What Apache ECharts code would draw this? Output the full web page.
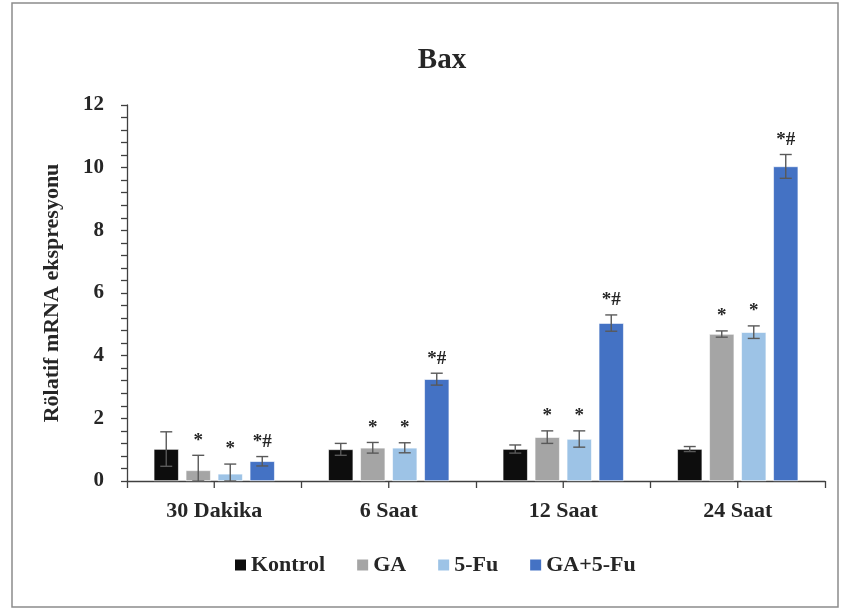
<!DOCTYPE html>
<html>
<head>
<meta charset="utf-8">
<script src="https://cdn.jsdelivr.net/npm/echarts@6/dist/echarts.min.js"></script>
<style>
  html, body { margin: 0; padding: 0; background: #fff; }
  #chart { width: 846px; height: 610px; }
</style>
</head>
<body>
<div id="chart"></div>
<script>
// Bax relative mRNA expression by time point and treatment
const categories = ['30 Dakika', '6 Saat', '12 Saat', '24 Saat'];
const seriesNames = ['Kontrol', 'GA', '5-Fu', 'GA+5-Fu'];

const kontrol    = [1.02, 1.01, 1.02, 1.02];
const ga         = [0.34, 1.06, 1.40, 4.69];
const fu         = [0.23, 1.06, 1.34, 4.75];
const gaFu       = [0.63, 3.25, 5.04, 10.04];

const kontrolErr = [0.55, 0.19, 0.13, 0.08];
const gaErr      = [0.48, 0.17, 0.20, 0.10];
const fuErr      = [0.31, 0.16, 0.26, 0.20];
const gaFuErr    = [0.15, 0.19, 0.26, 0.38];

const kontrolSig = ['', '', '', ''];
const gaSig      = ['*', '*', '*', '*'];
const fuSig      = ['*', '*', '*', '*'];
const gaFuSig    = ['*#', '*#', '*#', '*#'];

const yTicks = [0, 2, 4, 6, 8, 10, 12];

const values = [kontrol, ga, fu, gaFu];
const errors = [kontrolErr, gaErr, fuErr, gaFuErr];
const sigs = [kontrolSig, gaSig, fuSig, gaFuSig];
const colors = ['#0d0d0d', '#a5a5a5', '#9dc3e6', '#4472c4'];

const FONT = '"Liberation Serif", "Times New Roman", serif';
const BAR_W = 25;
const BAR_GAP = 7;
const TICK_LEN = 7;
const N = seriesNames.length;
const axisLineStyle = { color: '#404040', width: 1.3 };

const chart = echarts.init(document.getElementById('chart'));

function errorRenderer(sIdx) {
  return function (params, api) {
    const ci = api.value(0);
    const v = api.value(1);
    const e = api.value(2);
    const label = sigs[sIdx][params.dataIndex];
    const off = (sIdx - (N - 1) / 2) * (BAR_W + BAR_GAP);
    const x = api.coord([ci, v])[0] + off;
    const yTop = api.coord([ci, v + e])[1];
    const yBot = api.coord([ci, Math.max(0, v - e)])[1];
    const cap = 6;
    const stroke = { stroke: '#595959', lineWidth: 1.4 };
    const children = [
      { type: 'line', shape: { x1: x, y1: yTop, x2: x, y2: yBot }, style: stroke },
      { type: 'line', shape: { x1: x - cap, y1: yTop, x2: x + cap, y2: yTop }, style: stroke },
      { type: 'line', shape: { x1: x - cap, y1: yBot, x2: x + cap, y2: yBot }, style: stroke }
    ];
    if (label) {
      children.push({
        type: 'text',
        style: {
          text: label, x: x, y: yTop - 5,
          align: 'center', verticalAlign: 'bottom',
          fill: '#262626',
          font: 'bold 19px ' + FONT
        }
      });
    }
    return { type: 'group', children: children };
  };
}

const series = [];
seriesNames.forEach(function (name, i) {
  series.push({
    name: name,
    type: 'bar',
    data: values[i],
    barWidth: BAR_W,
    barGap: (BAR_GAP / BAR_W * 100) + '%',
    itemStyle: { color: colors[i], borderColor: '#ffffff', borderWidth: 0.6 },
    emphasis: { disabled: true },
    z: 2
  });
});
seriesNames.forEach(function (name, i) {
  series.push({
    type: 'custom',
    name: name + ' err',
    renderItem: errorRenderer(i),
    data: values[i].map(function (v, k) { return [k, v, errors[i][k]]; }),
    encode: { x: 0, y: 1 },
    z: 5,
    silent: true,
    clip: false
  });
});

const frame = {
  type: 'rect',
  shape: { x: 12, y: 3, width: 826, height: 604 },
  style: { fill: 'none', stroke: '#8c8c8c', lineWidth: 1.5 },
  silent: true,
  z: -1
};

chart.setOption({
  animation: false,
  backgroundColor: '#ffffff',
  title: {
    text: 'Bax',
    left: 437, top: 41,
    textAlign: 'center',
    textStyle: { fontFamily: FONT, fontWeight: 'bold', fontSize: 29, color: '#262626' }
  },
  legend: {
    data: seriesNames,
    left: 228, top: 549,
    icon: 'rect',
    itemWidth: 13, itemHeight: 13,
    itemGap: 30,
    textStyle: { fontFamily: FONT, fontWeight: 'bold', fontSize: 22, color: '#262626', padding: [0, 0, 0, -1] }
  },
  grid: { left: 127, right: 21, top: 105, bottom: 129 },
  xAxis: {
    type: 'category',
    data: categories,
    axisLine: { lineStyle: axisLineStyle },
    axisTick: { show: true, length: TICK_LEN, lineStyle: axisLineStyle },
    axisLabel: { fontFamily: FONT, fontWeight: 'bold', fontSize: 22, color: '#262626', margin: 19 }
  },
  yAxis: {
    type: 'value',
    min: yTicks[0],
    max: yTicks[yTicks.length - 1],
    interval: yTicks[1] - yTicks[0],
    name: 'Rölatif mRNA ekspresyonu',
    nameLocation: 'middle',
    nameGap: 64,
    nameTextStyle: { fontFamily: FONT, fontWeight: 'bold', fontSize: 22, color: '#262626' },
    axisLine: { show: true, lineStyle: axisLineStyle },
    axisTick: { show: true, length: 6, lineStyle: axisLineStyle },
    minorTick: { show: true, splitNumber: 5, length: 6, lineStyle: axisLineStyle },
    splitLine: { show: false },
    axisLabel: { fontFamily: FONT, fontWeight: 'bold', fontSize: 21, color: '#262626', margin: 23 }
  },
  graphic: [frame],
  series: series
});

// extra ticks under the middle of each category group, placed through the axis scale
const midTicks = categories.map(function (c, k) {
  const p = chart.convertToPixel({ xAxisIndex: 0, yAxisIndex: 0 }, [k, 0]);
  return {
    type: 'line',
    shape: { x1: p[0], y1: p[1], x2: p[0], y2: p[1] + TICK_LEN },
    style: { stroke: axisLineStyle.color, lineWidth: axisLineStyle.width },
    silent: true,
    z: 10
  };
});
chart.setOption({ graphic: [frame].concat(midTicks) }, { replaceMerge: ['graphic'] });
</script>
</body>
</html>
